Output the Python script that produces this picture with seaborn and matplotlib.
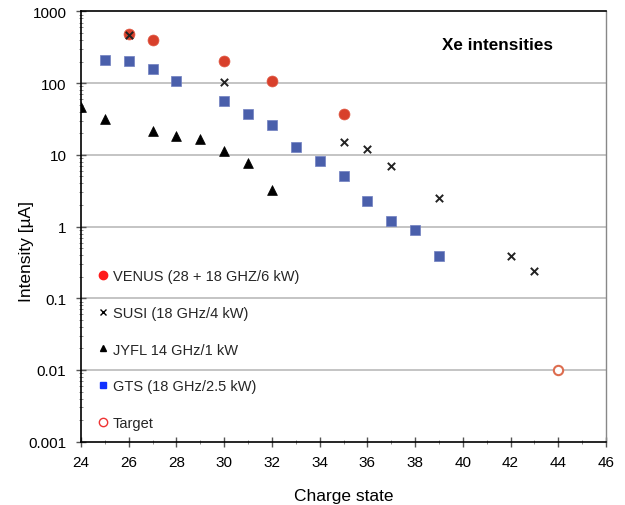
import pandas as pd
import matplotlib
matplotlib.use("Agg")
import matplotlib.pyplot as plt
import matplotlib.ticker as mticker
from matplotlib.lines import Line2D
import seaborn as sns

# Xe charge state intensities [uA]
venus_q = [26, 27, 30, 32, 35]
venus_i = [480, 403, 207, 109, 37]

susi_q = [26, 30, 35, 36, 37, 39, 42, 43]
susi_i = [470, 104, 15, 11.9, 6.9, 2.47, 0.395, 0.237]

jyfl_q = [24, 25, 27, 28, 29, 30, 31, 32]
jyfl_i = [47, 32, 21.7, 18.6, 16.8, 11.4, 7.6, 3.2]

gts_q = [25, 26, 27, 28, 30, 31, 32, 33, 34, 35, 36, 37, 38, 39]
gts_i = [214, 207, 157, 108, 55.6, 36.6, 25.9, 13, 8.3, 5.16, 2.26, 1.2, 0.9, 0.395]

target_q = [44]
target_i = [0.01]

labels = ['VENUS (28 + 18 GHZ/6 kW)', 'SUSI (18 GHz/4 kW)', 'JYFL 14 GHz/1 kW',
          'GTS (18 GHz/2.5 kW)', 'Target']
y_ticks = [0.001, 0.01, 0.1, 1, 10, 100, 1000]
y_tick_labels = ['0.001', '0.01', '0.1', '1', '10', '100', '1000']

sns.set_theme(style="white")
plt.rcParams['font.family'] = ['Liberation Sans', 'DejaVu Sans']

fig = plt.figure(figsize=(6.25, 5.06), dpi=100)
ax = fig.add_axes([0.1296, 0.1251, 0.84, 0.8502])

ax.set_yscale('log')

# grid first so markers sit on top
for yv in y_ticks[1:-1]:
    ax.axhline(yv, color='#b4b4b4', lw=1.1, zorder=0)

sns.scatterplot(x=gts_q, y=gts_i, ax=ax, marker='s', s=55, color='#4a5fab',
                edgecolor='#6f7fc0', linewidth=0.5, zorder=3)
sns.scatterplot(x=jyfl_q, y=jyfl_i, ax=ax, marker='^', s=50, color='black',
                edgecolor='black', linewidth=0.5, zorder=3)
sns.scatterplot(x=venus_q, y=venus_i, ax=ax, marker='o', s=62, color='#d8402b',
                edgecolor='#e05a45', linewidth=0.5, zorder=3)
sns.scatterplot(x=susi_q, y=susi_i, ax=ax, marker='x', s=28, color='#222222',
                linewidth=1.4, zorder=4)
sns.scatterplot(x=target_q, y=target_i, ax=ax, marker='o', s=45, facecolor='white',
                edgecolor='#dd6d4f', linewidth=1.5, zorder=4)

ax.set_xlim(24, 46)
ax.set_ylim(0.001, 1000)
ax.xaxis.set_major_locator(mticker.MultipleLocator(2))
ax.xaxis.set_minor_locator(mticker.MultipleLocator(1))
ax.yaxis.set_major_locator(mticker.FixedLocator(y_ticks))
ax.yaxis.set_major_formatter(mticker.FixedFormatter(y_tick_labels))
ax.yaxis.set_minor_locator(mticker.LogLocator(base=10, subs=range(2, 10)))
ax.yaxis.set_minor_formatter(mticker.NullFormatter())

ax.tick_params(axis='both', which='major', direction='inout', length=7, width=1,
               color='#555555', labelsize=11, labelcolor='black')
ax.tick_params(axis='x', which='major', pad=6)
ax.tick_params(axis='y', which='major', pad=7)
ax.tick_params(axis='both', which='minor', direction='inout', length=3, width=0.6,
               color='#777777')
ax.tick_params(axis='x', which='both', bottom=True, top=False)
ax.tick_params(axis='y', which='both', left=True, right=False)

for side in ['left', 'bottom', 'top']:
    ax.spines[side].set_color('black')
    ax.spines[side].set_linewidth(1.2)
ax.spines['right'].set_color('#888888')
ax.spines['right'].set_linewidth(1.0)

ax.set_xlabel('Charge state', fontsize=12.5, color='black')
ax.set_ylabel('Intensity [µA]', fontsize=12.5, color='black')
ax.xaxis.set_label_coords(0.5, -0.108)
ax.yaxis.set_label_coords(-0.089, 0.445)

ax.text(0.794, 0.924, 'Xe intensities', transform=ax.transAxes, ha='center',
        va='center', fontsize=12.3, fontweight='bold', color='black')

handles = [
    Line2D([], [], ls='none', marker='o', ms=6, color='#ff1a1a'),
    Line2D([], [], ls='none', marker='x', ms=4.5, mew=1, color='black'),
    Line2D([], [], ls='none', marker='^', ms=5, color='black'),
    Line2D([], [], ls='none', marker='s', ms=5, color='#1030ff'),
    Line2D([], [], ls='none', marker='o', ms=6, mfc='white', mec='#ee3333', mew=1),
]
ax.legend(handles, labels, loc='lower left', bbox_to_anchor=(0.005, -0.004),
          frameon=False, fontsize=10.5, handlelength=0.8, handletextpad=0.3,
          labelspacing=1.57, borderpad=0.4)

fig.savefig('out.png', dpi=100)
